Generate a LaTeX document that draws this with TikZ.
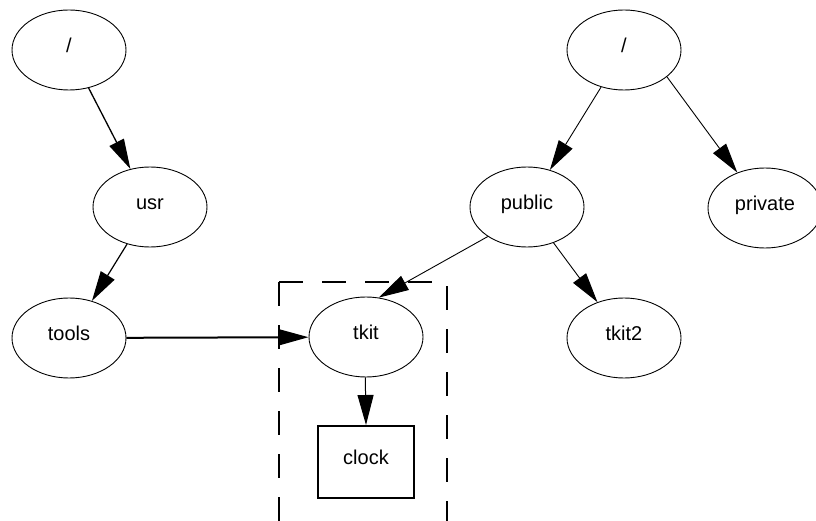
\documentclass[tikz,border=0pt]{standalone}
\usepackage{fontspec}
\setmainfont{Liberation Sans}
\usetikzlibrary{shapes.geometric,arrows.meta}
\begin{document}
\begin{tikzpicture}[x=1pt,y=-1pt,
  dirnode/.style={ellipse,draw,line width=0.9pt,minimum width=114pt,minimum height=80pt,
    inner sep=0pt,text height=14pt,text depth=9pt,font=\fontsize{20}{24}\selectfont},
  filebox/.style={rectangle,draw,line width=2pt,minimum width=96pt,minimum height=72pt,
    inner sep=0pt,text height=14pt,text depth=9pt,font=\fontsize{20}{24}\selectfont},
  link/.style={-{Triangle[length=30pt,width=16pt]},line width=1pt},
  frame/.style={line width=2pt,dash pattern=on 24pt off 19pt}]
\useasboundingbox (0,0) rectangle (816,521);
\clip (0,0) rectangle (816,521);

% first directory tree
\node[dirnode] (rootA) at (69,50) {/};
\node[dirnode] (usr) at (150,207) {usr};
\node[dirnode] (tools) at (69,338) {tools};
\node[dirnode] (tkit) at (366,337) {tkit};
\node[filebox] (clock) at (366,462) {clock};

% second directory tree
\node[dirnode] (rootB) at (624,50) {/};
\node[dirnode] (public) at (527,207) {public};
\node[dirnode] (private) at (765,208) {private};
\node[dirnode] (tkit2) at (624,338) {tkit2};

% mounted subtree outline
\draw[frame] (279,282) -- (279,540);
\draw[frame] (279,282) -- (447,282) -- (447,540);

% edges
\draw[link,line width=1.3pt] (rootA) -- (usr);
\draw[link,line width=1.2pt] (usr) -- (tools);
\draw[link,line width=2pt] (tools) -- (tkit);
\draw[link] (tkit.-91) -- (clock.north);
\draw[link,line width=0.9pt] (rootB) -- (public);
\draw[link,line width=0.9pt] (rootB.-32) -- (private.128);
\draw[link,line width=0.9pt] (public.217) -- (tkit.72);
\draw[link,line width=0.9pt] (public) -- (tkit2);
\end{tikzpicture}
\end{document}
